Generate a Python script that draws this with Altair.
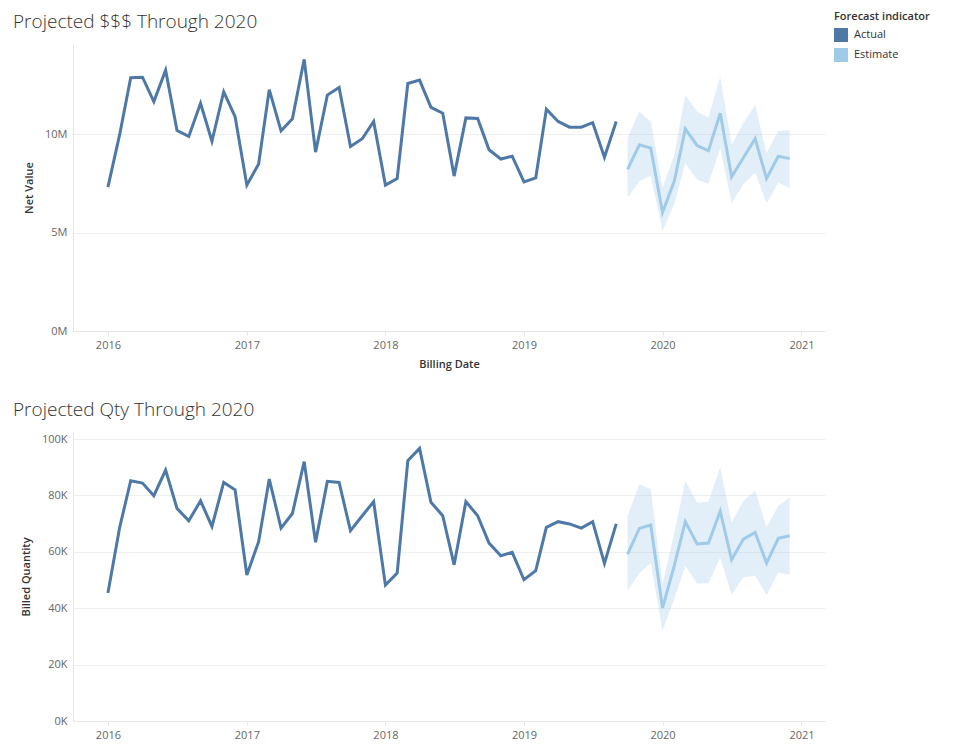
import altair as alt
import pandas as pd

# ---- data ----
actual_months = pd.date_range("2016-01-01", "2019-09-01", freq="MS")
est_months = pd.date_range("2019-10-01", "2020-12-01", freq="MS")

net_actual = [7.32, 10.0, 12.88, 12.91, 11.67, 13.27, 10.2, 9.9, 11.58, 9.65, 12.17, 10.9,
              7.42, 8.5, 12.28, 10.18, 10.79, 13.82, 9.1, 12.0, 12.39, 9.39, 9.78, 10.66,
              7.42, 7.76, 12.59, 12.76, 11.38, 11.08, 7.88, 10.84, 10.81, 9.22, 8.75, 8.89,
              7.58, 7.79, 11.28, 10.66, 10.37, 10.37, 10.6, 8.84, 10.66]
net_est = [8.22, 9.47, 9.3, 6.03, 7.63, 10.28, 9.44, 9.17, 11.08, 7.84, 8.81, 9.78, 7.76, 8.89, 8.77]
net_upper = [9.82, 11.16, 10.66, 7.29, 8.97, 12.0, 11.16, 10.86, 12.93, 9.47, 10.58, 11.5, 9.06, 10.18, 10.23]
net_lower = [6.78, 7.63, 7.88, 5.1, 6.45, 8.55, 7.71, 7.49, 9.31, 6.5, 7.46, 8.05, 6.5, 7.54, 7.29]

qty_actual = [45.4, 68.7, 85.2, 84.4, 79.9, 89.0, 75.4, 71.0, 78.1, 69.0, 84.6, 82.0,
              51.8, 63.6, 85.8, 68.4, 73.6, 92.0, 63.4, 85.0, 84.6, 67.5, 72.8, 77.8,
              48.2, 52.5, 92.3, 96.7, 77.6, 72.8, 55.4, 77.8, 72.8, 63.1, 58.6, 59.8,
              50.1, 53.3, 68.7, 70.7, 69.9, 68.4, 70.7, 55.9, 69.9]
qty_est = [59.2, 68.3, 69.5, 40.1, 55.1, 70.7, 62.8, 63.1, 74.4, 57.2, 64.5, 66.9, 56.0, 64.8, 65.7]
qty_upper = [72.8, 84.0, 82.3, 48.6, 66.9, 85.2, 77.5, 77.8, 90.0, 70.4, 78.1, 81.7, 68.7, 76.3, 79.3]
qty_lower = [46.2, 52.4, 56.0, 32.0, 43.3, 55.1, 48.8, 48.9, 58.0, 44.8, 51.0, 51.5, 44.7, 52.7, 51.8]

indicators = ["Actual", "Estimate"]
colors = ["#4e79a7", "#a0cbe8"]


def frames(act, est, up, lo, mult):
    line = pd.DataFrame({
        "date": list(actual_months) + list(est_months),
        "value": [v * mult for v in act] + [v * mult for v in est],
        "ind": ["Actual"] * len(act) + ["Estimate"] * len(est),
    })
    band = pd.DataFrame({
        "date": list(est_months),
        "upper": [v * mult for v in up],
        "lower": [v * mult for v in lo],
    })
    return line, band


net_line, net_band = frames(net_actual, net_est, net_upper, net_lower, 1e6)
qty_line, qty_band = frames(qty_actual, qty_est, qty_upper, qty_lower, 1e3)

FONT = "Open Sans"
xdomain = [pd.Timestamp("2015-10-01").isoformat(), pd.Timestamp("2021-03-04").isoformat()]
color_scale = alt.Scale(domain=indicators, range=colors)

legend = alt.Legend(title="Forecast indicator", orient="none",
                    legendX=761, legendY=-33, symbolType="square",
                    symbolSize=36, symbolStrokeWidth=8, clipHeight=14,
                    titleFont=FONT, titleFontSize=11, titleFontWeight=600,
                    titleColor="#333", labelFont=FONT, labelFontSize=11,
                    labelColor="#333", rowPadding=6, titlePadding=6, labelOffset=6)


def panel(line, band, title, ytitle, ymax, yvals, label_expr, xtitle, height):
    axis_kw = dict(format="%Y", tickCount={"interval": "year", "step": 1},
                   grid=False, labelColor="#666", labelFontSize=11, labelFont=FONT,
                   domainColor="#e6e6e6", tickColor="#e6e6e6", tickSize=4, labelPadding=4)
    if xtitle is not None:
        xaxis = alt.Axis(title=xtitle, titleFont=FONT, titleFontSize=11, titleFontWeight=600,
                         titleColor="#333", titlePadding=8, **axis_kw)
    else:
        xaxis = alt.Axis(title=None, **axis_kw)
    x = alt.X("date:T", scale=alt.Scale(domain=xdomain), axis=xaxis)
    yscale = alt.Scale(domain=[0, ymax], nice=False)
    yaxis = alt.Axis(values=yvals, labelExpr=label_expr, title=ytitle, gridColor="#efefef",
                     domainColor="#e6e6e6", ticks=False, labelColor="#666", labelFontSize=11,
                     labelFont=FONT, titleFont=FONT, titleFontSize=11, titleFontWeight=600,
                     titleColor="#333", labelPadding=6, titlePadding=10)
    area = alt.Chart(band).mark_area(color="#a0cbe8", opacity=0.3).encode(
        x=x,
        y=alt.Y("lower:Q", scale=yscale, axis=yaxis),
        y2="upper:Q",
    )
    lines = alt.Chart(line).mark_line(strokeWidth=3).encode(
        x=x,
        y=alt.Y("value:Q", scale=yscale, axis=yaxis),
        color=alt.Color("ind:N", scale=color_scale, legend=legend),
    )
    return alt.layer(area, lines).properties(
        width=752, height=height,
        title=alt.TitleParams(title, anchor="start", font=FONT, fontSize=19, fontWeight=300,
                              color="#333", offset=12, frame="group", dx=-60),
    )


top = panel(net_line, net_band, "Projected $$$ Through 2020", "Net Value", 14.6e6,
            [0, 5e6, 10e6], "datum.value / 1000000 + 'M'", "Billing Date", 287)
bottom = panel(qty_line, qty_band, "Projected Qty Through 2020", "Billed Quantity", 102500,
               [0, 20000, 40000, 60000, 80000, 100000], "datum.value / 1000 + 'K'", None, 289)

chart = alt.vconcat(top, bottom, spacing=32).resolve_scale(color="shared").configure_view(
    stroke=None
).properties(padding={"left": 5, "top": 3, "right": 5, "bottom": 0})

chart.save("out.html", embed_options={"renderer": "svg", "actions": False})
